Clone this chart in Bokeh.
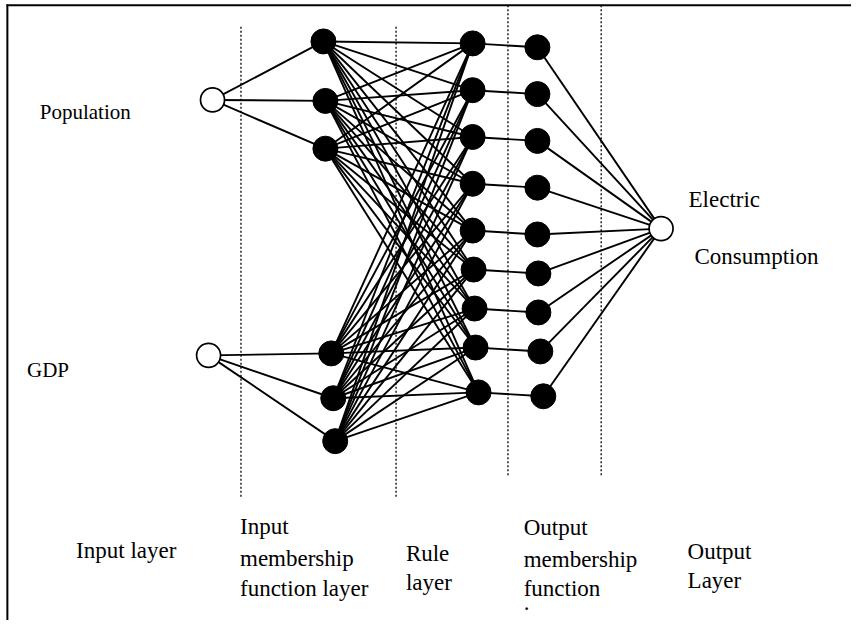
from bokeh.plotting import figure
from bokeh.models import Range1d
from bokeh.core.properties import value
from bokeh.embed import file_html
from bokeh.resources import INLINE

# ---- node positions (diagram coordinates, 867 x 636 canvas) ----
input_x = [216, 212]
input_y = [102, 364]

mf_in_x = [329, 331, 331, 337, 339, 341]
mf_in_y = [42, 103, 152, 362, 408, 452]
mf_in_parent = [0, 0, 0, 1, 1, 1]

rule_x = [481, 481, 481, 481, 481, 482, 483, 484, 487]
rule_y = [44, 92, 140, 188, 236, 276, 316, 356, 402]

mf_out_x = [547, 547, 547, 547, 547, 548, 548, 550, 553]
mf_out_y = [48, 96, 144, 192, 240, 280, 320, 360, 406]

output_x = [673]
output_y = [234]

# ---- dotted layer dividers ----
divider_x = [245, 403, 517, 612]
divider_top = [27, 27, 5, 5]
divider_bottom = [510, 510, 487, 487]

# ---- labels ----
input_label_text = ["Population", "GDP"]
input_label_x = [40, 27]
input_label_y = [114, 379]

output_label_text = ["Electric", "Consumption"]
output_label_x = [701, 707]
output_label_y = [204, 263]

layer_label_text = ["Input layer",
                    "Input", "membership", "function layer",
                    "Rule", "layer",
                    "Output", "membership", "function", ".",
                    "Output", "Layer"]
layer_label_x = [77, 244, 244, 244, 413, 413, 533, 533, 533, 533, 700, 700]
layer_label_y = [564, 540, 572, 603, 567, 597, 541, 573, 603, 618, 565, 595]

CW, CH = 867, 636
W, H = 851, 620
p = figure(width=W, height=H, output_backend="svg", toolbar_location=None,
           x_range=Range1d(0, CW), y_range=Range1d(CH, 0),
           min_border=0, outline_line_color=None,
           background_fill_color="white", border_fill_color="white")
p.axis.visible = False
p.grid.visible = False

# frame border (top and left visible)
p.segment(x0=[6, 7], y0=[5, 4], x1=[CW, 7], y1=[5, CH],
          line_color="black", line_width=2)

# dividers
p.segment(x0=divider_x, y0=divider_top, x1=divider_x, y1=divider_bottom,
          line_color="black", line_width=1.3, line_dash="2 2")

# edges
xs, ys = [], []
for i, par in enumerate(mf_in_parent):
    xs.append([input_x[par], mf_in_x[i]])
    ys.append([input_y[par], mf_in_y[i]])
for i in range(len(mf_in_x)):
    for j in range(len(rule_x)):
        xs.append([mf_in_x[i], rule_x[j]])
        ys.append([mf_in_y[i], rule_y[j]])
for j in range(len(rule_x)):
    xs.append([rule_x[j], mf_out_x[j]])
    ys.append([rule_y[j], mf_out_y[j]])
    xs.append([mf_out_x[j], output_x[0]])
    ys.append([mf_out_y[j], output_y[0]])
p.multi_line(xs=xs, ys=ys, line_color="black", line_width=1.9)

# nodes
p.scatter(x=mf_in_x, y=mf_in_y, size=25, fill_color="black", line_color="black")
p.scatter(x=rule_x, y=rule_y, size=25, fill_color="black", line_color="black")
p.scatter(x=mf_out_x, y=mf_out_y, size=25, fill_color="black", line_color="black")
p.scatter(x=input_x, y=input_y, size=24, fill_color="white", line_color="black", line_width=1.7)
p.scatter(x=output_x, y=output_y, size=24, fill_color="white", line_color="black", line_width=1.7)

serif = value("'Liberation Serif', 'Times New Roman', Times, serif")
p.text(x=input_label_x, y=input_label_y, text=input_label_text,
       text_font=serif, text_font_size=value("21px"), text_color="black",
       text_baseline="alphabetic", text_align="left")
p.text(x=output_label_x, y=output_label_y, text=output_label_text,
       text_font=serif, text_font_size=value("23px"), text_color="black",
       text_baseline="alphabetic", text_align="left")
p.text(x=layer_label_x, y=layer_label_y, text=layer_label_text,
       text_font=serif, text_font_size=value("23px"), text_color="black",
       text_baseline="alphabetic", text_align="left")

open("out.html", "w").write(file_html(p, INLINE))
